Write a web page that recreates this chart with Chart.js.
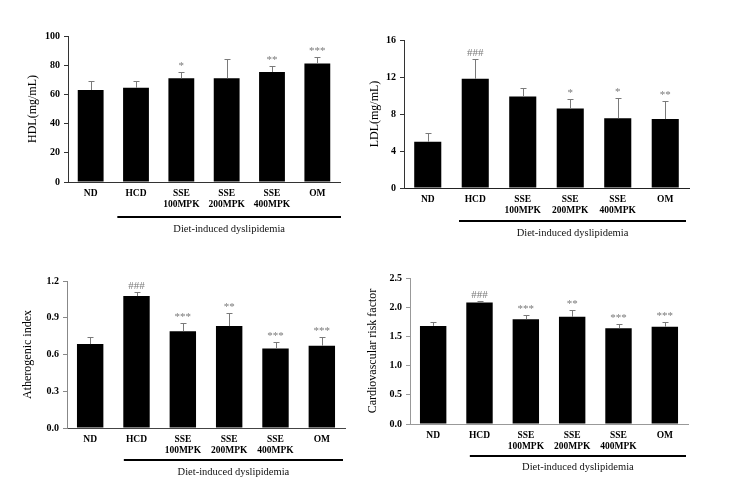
<!DOCTYPE html>
<html>
<head>
<meta charset="utf-8">
<script src="https://cdn.jsdelivr.net/npm/chart.js@4.4.0/dist/chart.umd.min.js"></script>
<style>
body { margin: 0; background: #fff; width: 739px; height: 491px; overflow: hidden; position: relative; }
canvas { position: absolute; }
</style>
</head>
<body>
<canvas id="hdl" width="362" height="245" style="left:0;top:0"></canvas>
<canvas id="ldl" width="377" height="245" style="left:362px;top:0"></canvas>
<canvas id="ai" width="362" height="246" style="left:0;top:245px"></canvas>
<canvas id="crf" width="377" height="246" style="left:362px;top:245px"></canvas>
<script>
// groups on the x axis
const categories = ['ND', 'HCD', ['SSE', '100MPK'], ['SSE', '200MPK'], ['SSE', '400MPK'], 'OM']

// HDL (mg/mL)
const hdlMean = [63, 64.5, 71, 71, 75.3, 81.2]
const hdlSd = [6, 4.5, 4.2, 13, 4.4, 4.2]
const hdlSig = ['', '', '*', '', '**', '***']

// LDL (mg/mL)
const ldlMean = [5.0, 11.8, 9.9, 8.6, 7.55, 7.45]
const ldlSd = [0.9, 2.1, 0.9, 1.0, 2.15, 1.95]
const ldlSig = ['', '###', '', '*', '*', '**']

// Atherogenic index
const aiMean = [0.685, 1.077, 0.79, 0.832, 0.65, 0.672]
const aiSd = [0.06, 0.03, 0.07, 0.11, 0.055, 0.073]
const aiSig = ['', '###', '***', '**', '***', '***']

// Cardiovascular risk factor
const crfMean = [1.68, 2.08, 1.795, 1.835, 1.64, 1.665]
const crfSd = [0.065, 0.025, 0.07, 0.11, 0.07, 0.085]
const crfSig = ['', '###', '***', '**', '***', '***']

const groupLabel = 'Diet-induced dyslipidemia'
const serif = '"Liberation Serif", "Times New Roman", serif'

// error bars (upper only) + significance marks
const errorBars = {
	id: 'errorBars',
	afterDatasetsDraw(chart, args, o) {
		const ctx = chart.ctx
		const y = chart.scales.y
		const ds = chart.data.datasets[0]
		const meta = chart.getDatasetMeta(0)
		ctx.save()
		meta.data.forEach((bar, i) => {
			const top = Math.round(y.getPixelForValue(ds.data[i] + ds.sd[i])) + 0.5
			const bx = Math.round(bar.x) + 0.5
			ctx.strokeStyle = o.color
			ctx.lineWidth = 1
			ctx.beginPath()
			ctx.moveTo(bx, bar.y)
			ctx.lineTo(bx, top)
			ctx.moveTo(bx - 3, top)
			ctx.lineTo(bx + 3, top)
			ctx.stroke()
			if (ds.sig[i]) {
				ctx.fillStyle = o.color
				ctx.font = '11px ' + serif
				ctx.textAlign = 'center'
				ctx.textBaseline = 'alphabetic'
				ctx.fillText(ds.sig[i], bar.x, top - 4)
			}
		})
		ctx.restore()
	}
}

// black line under the treated groups + caption
const bracket = {
	id: 'bracket',
	afterDraw(chart, args, o) {
		const ctx = chart.ctx
		const area = chart.chartArea
		const x = chart.scales.x
		const half = (x.getPixelForValue(1) - x.getPixelForValue(0)) / 2
		const x0 = x.getPixelForValue(1) - half + o.startShift
		const x1 = area.right + o.endShift
		const ly = area.bottom + o.lineY
		ctx.save()
		ctx.strokeStyle = '#000'
		ctx.lineWidth = 2
		ctx.beginPath()
		ctx.moveTo(x0, ly)
		ctx.lineTo(x1, ly)
		ctx.stroke()
		ctx.fillStyle = '#111'
		ctx.font = '10.5px ' + serif
		ctx.textAlign = 'center'
		ctx.textBaseline = 'middle'
		ctx.fillText(groupLabel, (x0 + x1) / 2, area.bottom + o.textY)
		ctx.restore()
	}
}

function montaPainel(id, mean, sd, sig, cfg) {
	const ctx = document.getElementById(id).getContext('2d')
	new Chart(ctx, {
		type: 'bar',
		data: {
			labels: categories,
			datasets: [{
				data: mean,
				sd: sd,
				sig: sig,
				backgroundColor: '#000',
				borderWidth: 0,
				categoryPercentage: 1,
				barPercentage: 0.57
			}]
		},
		options: {
			responsive: false,
			animation: false,
			layout: { padding: cfg.pad },
			plugins: {
				legend: { display: false },
				tooltip: { enabled: false },
				errorBars: { color: '#7a7a7a' },
				bracket: cfg.bracket
			},
			scales: {
				x: {
					grid: { display: false, drawTicks: false },
					border: { display: true, color: cfg.xColor, width: 1 },
					ticks: {
						color: '#000',
						padding: 6,
						maxRotation: 0,
						autoSkip: false,
						font: { family: serif, size: 9.5, weight: 'bold', lineHeight: 1.15 }
					},
					afterFit: (s) => { s.height = cfg.xHeight }
				},
				y: {
					min: cfg.min,
					max: cfg.max,
					grid: { display: true, drawOnChartArea: false, drawTicks: true, tickLength: 4, color: cfg.yColor },
					border: { display: true, color: cfg.yColor, width: 1 },
					ticks: {
						stepSize: cfg.step,
						color: '#000',
						padding: 4,
						font: { family: serif, size: 10, weight: 'bold' },
						callback: (v) => Number(v).toFixed(cfg.decimals)
					},
					title: {
						display: true,
						text: cfg.title,
						color: '#000',
						padding: cfg.titlePad,
						font: { family: serif, size: 12 }
					},
					afterFit: (s) => { s.width = cfg.yWidth }
				}
			}
		},
		plugins: [errorBars, bracket]
	})
}

montaPainel('hdl', hdlMean, hdlSd, hdlSig, {
	min: 0, max: 100, step: 20, decimals: 0, title: 'HDL(mg/mL)', titlePad: 26,
	pad: { left: 0, right: 22, top: 36, bottom: 0 }, yWidth: 68, xHeight: 63,
	xColor: '#333', yColor: '#333',
	bracket: { startShift: 4, endShift: 1, lineY: 35, textY: 47 }
})

montaPainel('ldl', ldlMean, ldlSd, ldlSig, {
	min: 0, max: 16, step: 4, decimals: 0, title: 'LDL(mg/mL)', titlePad: 6,
	pad: { left: 0, right: 50, top: 40, bottom: 0 }, yWidth: 42, xHeight: 57,
	xColor: '#222', yColor: '#333',
	bracket: { startShift: 7.5, endShift: -3, lineY: 33, textY: 45 }
})

montaPainel('ai', aiMean, aiSd, aiSig, {
	min: 0, max: 1.2, step: 0.3, decimals: 1, title: 'Atherogenic index', titlePad: 21,
	pad: { left: 0, right: 17, top: 36, bottom: 0 }, yWidth: 67, xHeight: 63,
	xColor: '#444', yColor: '#888',
	bracket: { startShift: 10.5, endShift: -2, lineY: 32, textY: 44 }
})

montaPainel('crf', crfMean, crfSd, crfSig, {
	min: 0, max: 2.5, step: 0.5, decimals: 1, title: 'Cardiovascular risk factor', titlePad: 4,
	pad: { left: 0, right: 51, top: 33, bottom: 0 }, yWidth: 48, xHeight: 67,
	xColor: '#999', yColor: '#999',
	bracket: { startShift: 13.5, endShift: -2, lineY: 32, textY: 43 }
})
</script>
</body>
</html>
